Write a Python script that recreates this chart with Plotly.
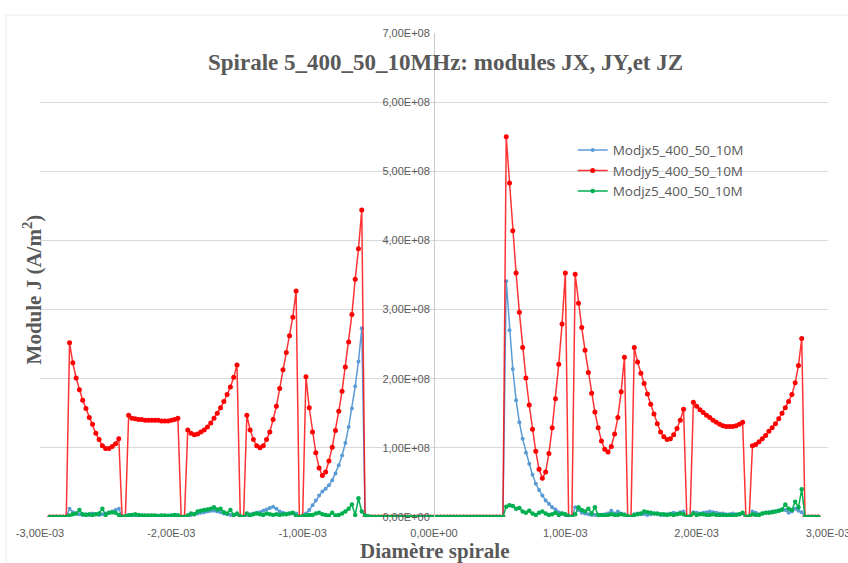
import plotly.graph_objects as go

# ---------------- data ----------------
# sample positions along the spiral diameter (m)
X_START = -2.925e-3
X_STEP = 2.5e-5

# values in units of 1e8 A/m^2
jx_e8 = [
    0, 0, 0, 0, 0, 0,
    0.12, 0.07, 0.05, 0.04, 0.03, 0.04, 0.03, 0.05, 0.04, 0.03, 0.04, 0.05, 0.06, 0.08, 0.10, 0.12,
    0, 0,
    0.03, 0.03, 0.02, 0.02, 0.02, 0.02, 0.02, 0.02, 0.02, 0.02, 0.02, 0.02, 0.02, 0.02, 0.02, 0.03,
    0, 0,
    0.02, 0.03, 0.04, 0.05, 0.06, 0.07, 0.08, 0.09, 0.09, 0.08, 0.07, 0.05, 0.04, 0.03, 0.03, 0.04,
    0, 0,
    0.03, 0.04, 0.05, 0.06, 0.07, 0.09, 0.11, 0.13, 0.15, 0.12, 0.08, 0.06, 0.05, 0.05, 0.05, 0.05,
    0, 0.02,
    0.05, 0.10, 0.17, 0.24, 0.31, 0.37, 0.41, 0.46, 0.53, 0.63, 0.75, 0.89, 1.07, 1.30, 1.57, 1.89, 2.25, 2.73,
    0, 0, 0, 0, 0, 0, 0, 0, 0, 0, 0, 0, 0, 0, 0, 0, 0, 0, 0, 0, 0, 0,
    0, 0, 0, 0, 0, 0, 0, 0, 0, 0, 0, 0, 0, 0, 0, 0, 0, 0, 0, 0, 0,
    3.41, 2.70, 2.14, 1.69, 1.37, 1.13, 0.93, 0.77, 0.61, 0.48, 0.39, 0.31, 0.24, 0.19, 0.14, 0.11, 0.07, 0.05, 0.03,
    0.02, 0,
    0.14, 0.10, 0.06, 0.05, 0.04, 0.03, 0.03, 0.03, 0.03, 0.04, 0.05, 0.09, 0.05, 0.08, 0.05, 0.04,
    0, 0,
    0.04, 0.05, 0.04, 0.04, 0.03, 0.04, 0.05, 0.04, 0.03, 0.03, 0.04, 0.05, 0.06, 0.05, 0.07, 0.08,
    0, 0,
    0.07, 0.06, 0.05, 0.06, 0.07, 0.08, 0.07, 0.06, 0.05, 0.05, 0.04, 0.04, 0.05, 0.04, 0.04, 0.05,
    0, 0,
    0.08, 0.06, 0.04, 0.05, 0.06, 0.07, 0.08, 0.08, 0.09, 0.10, 0.10, 0.06, 0.08, 0.12, 0.09, 0.07,
    0, 0, 0, 0, 0,
]

jy_e8 = [
    0, 0, 0, 0, 0, 0,
    2.52, 2.23, 2.01, 1.84, 1.69, 1.57, 1.44, 1.34, 1.21, 1.12, 1.03, 0.99, 0.99, 1.02, 1.06, 1.13,
    0, 0,
    1.47, 1.43, 1.42, 1.41, 1.41, 1.40, 1.40, 1.40, 1.40, 1.40, 1.39, 1.39, 1.39, 1.40, 1.41, 1.43,
    0, 0,
    1.26, 1.21, 1.19, 1.20, 1.23, 1.26, 1.30, 1.36, 1.43, 1.50, 1.58, 1.67, 1.77, 1.88, 2.02, 2.20,
    0, 0,
    1.47, 1.26, 1.12, 1.03, 1.00, 1.03, 1.12, 1.23, 1.41, 1.60, 1.86, 2.13, 2.38, 2.62, 2.89, 3.27,
    0, 0,
    2.03, 1.58, 1.23, 0.93, 0.71, 0.60, 0.65, 0.81, 1.01, 1.25, 1.53, 1.82, 2.17, 2.53, 2.93, 3.44, 3.88, 4.44,
    0, 0, 0, 0, 0, 0, 0, 0, 0, 0, 0, 0, 0, 0, 0, 0, 0, 0, 0, 0, 0, 0,
    0, 0, 0, 0, 0, 0, 0, 0, 0, 0, 0, 0, 0, 0, 0, 0, 0, 0, 0, 0, 0,
    5.50, 4.83, 4.14, 3.53, 2.96, 2.45, 2.01, 1.62, 1.27, 0.95, 0.69, 0.56, 0.65, 0.92, 1.29, 1.71, 2.21, 2.79, 3.53,
    0, 0,
    3.51, 3.09, 2.74, 2.41, 2.09, 1.79, 1.52, 1.29, 1.10, 0.98, 0.94, 1.02, 1.20, 1.44, 1.81, 2.31,
    0, 0,
    2.45, 2.24, 2.08, 1.93, 1.78, 1.63, 1.49, 1.35, 1.23, 1.16, 1.12, 1.13, 1.19, 1.28, 1.40, 1.56,
    0, 0,
    1.66, 1.60, 1.55, 1.51, 1.47, 1.44, 1.40, 1.37, 1.34, 1.32, 1.31, 1.31, 1.31, 1.32, 1.34, 1.37,
    0, 0,
    1.03, 1.05, 1.09, 1.13, 1.18, 1.24, 1.29, 1.35, 1.42, 1.50, 1.58, 1.67, 1.77, 1.94, 2.19, 2.58,
    0, 0, 0, 0, 0,
]

jz_e8 = [
    0, 0, 0, 0, 0, 0,
    0.02, 0.04, 0.05, 0.10, 0.04, 0.03, 0.04, 0.03, 0.04, 0.05, 0.12, 0.03, 0.06, 0.07, 0.06, 0.03,
    0, 0.01,
    0.02, 0.03, 0.04, 0.03, 0.02, 0.02, 0.02, 0.02, 0.02, 0.01, 0.02, 0.02, 0.01, 0.02, 0.03, 0.02,
    0, 0,
    0.02, 0.05, 0.04, 0.08, 0.09, 0.10, 0.11, 0.12, 0.14, 0.11, 0.12, 0.07, 0.05, 0.10, 0.03, 0.05,
    0.01, 0,
    0.05, 0.02, 0.04, 0.05, 0.04, 0.03, 0.05, 0.04, 0.03, 0.04, 0.03, 0.04, 0.04, 0.05, 0.06, 0.02,
    0, 0.01,
    0.02, 0.03, 0.03, 0.05, 0.06, 0.04, 0.03, 0.02, 0.06, 0.02, 0.03, 0.05, 0.08, 0.12, 0.18, 0.03, 0.27, 0.08,
    0.02, 0.01, 0, 0, 0, 0, 0, 0, 0, 0, 0, 0, 0, 0, 0, 0, 0, 0, 0, 0, 0, 0,
    0, 0, 0, 0, 0, 0, 0, 0, 0, 0, 0, 0, 0, 0, 0, 0, 0, 0, 0, 0, 0,
    0.15, 0.17, 0.16, 0.12, 0.13, 0.08, 0.06, 0.09, 0.05, 0.03, 0.06, 0.08, 0.05, 0.03, 0.04, 0.06, 0.03, 0.05, 0.04,
    0.01, 0,
    0.04, 0.14, 0.10, 0.08, 0.12, 0.05, 0.14, 0.03, 0.03, 0.02, 0.03, 0.04, 0.03, 0.03, 0.04, 0.03,
    0.01, 0,
    0.03, 0.04, 0.05, 0.08, 0.07, 0.06, 0.05, 0.05, 0.04, 0.04, 0.03, 0.04, 0.03, 0.04, 0.05, 0.04,
    0, 0.01,
    0.05, 0.03, 0.04, 0.04, 0.03, 0.03, 0.04, 0.03, 0.03, 0.03, 0.02, 0.03, 0.02, 0.03, 0.04, 0.06,
    0, 0.01,
    0.04, 0.03, 0.03, 0.05, 0.06, 0.06, 0.07, 0.08, 0.09, 0.11, 0.18, 0.12, 0.10, 0.22, 0.14, 0.40,
    0, 0, 0, 0, 0,
]

SERIES_NAMES = ["Modjx5_400_50_10M", "Modjy5_400_50_10M", "Modjz5_400_50_10M"]

X_TICK_VALS = [-3e-3, -2e-3, -1e-3, 0.0, 1e-3, 2e-3, 3e-3]
X_TICK_TEXT = ["-3,00E-03", "-2,00E-03", "-1,00E-03", "0,00E+00", "1,00E-03", "2,00E-03", "3,00E-03"]
Y_TICK_VALS = [0, 1e8, 2e8, 3e8, 4e8, 5e8, 6e8, 7e8]
Y_TICK_TEXT = ["0,00E+00", "1,00E+08", "2,00E+08", "3,00E+08", "4,00E+08", "5,00E+08", "6,00E+08", "7,00E+08"]

TITLE = "Spirale 5_400_50_10MHz: modules JX, JY,et JZ"
X_TITLE = "Diamètre spirale"
Y_TITLE = "Module J (A/m<sup>2</sup>)"

# ---------------- figure ----------------
n = len(jy_e8)
x = [X_START + i * X_STEP for i in range(n)]
scale = 1e8

fig = go.Figure()
styles = [
    (jx_e8, "#5B9BD5", "#5B9BD5", 4),
    (jy_e8, "rgba(255,0,0,0.8)", "#FF0000", 5),
    (jz_e8, "#00B050", "#00B050", 4.5),
]
for (vals, lc, mc, ms), name in zip(styles, SERIES_NAMES):
    fig.add_trace(go.Scatter(
        x=x, y=[v * scale for v in vals], name=name, mode="lines+markers",
        line=dict(color=lc, width=1.5),
        marker=dict(color=mc, size=ms),
    ))

GREY = "#595959"
TICKFONT = dict(family="Liberation Sans Narrow, Arial Narrow, Liberation Sans, sans-serif", size=11, color=GREY)
SERIF = "Liberation Serif, Times New Roman, serif"

fig.update_layout(
    width=848, height=563,
    margin=dict(l=40, r=20, t=33, b=46, autoexpand=False),
    paper_bgcolor="white", plot_bgcolor="white",
    showlegend=True,
    legend=dict(
        x=0.676, y=0.79, xanchor="left", yanchor="top",
        font=dict(family="Open Sans, Liberation Sans, sans-serif", size=13.5, color=GREY),
        bgcolor="rgba(0,0,0,0)", tracegroupgap=0, itemwidth=30,
    ),
    xaxis=dict(
        range=[-3e-3, 3e-3], tickvals=X_TICK_VALS, ticktext=X_TICK_TEXT,
        showgrid=False, zeroline=False, showline=False, ticks="",
        tickfont=TICKFONT, ticklabelstandoff=8, ticklabeloverflow="allow",
        automargin=False,
    ),
    yaxis=dict(
        range=[0, 7e8], tickvals=Y_TICK_VALS, ticktext=Y_TICK_TEXT,
        showgrid=True, gridcolor="#D9D9D9", gridwidth=1,
        zeroline=False, showline=True, linecolor="#C8C8C8", linewidth=1,
        anchor="free", position=0.5, side="left", ticks="",
        tickfont=TICKFONT, ticklabelstandoff=2, automargin=False,
    ),
    annotations=[
        dict(text=TITLE, xref="paper", yref="paper", x=0.514, y=0.94,
             xanchor="center", yanchor="middle", showarrow=False,
             font=dict(family=SERIF, size=23, color=GREY, weight="bold")),
        dict(text=X_TITLE, xref="paper", yref="paper", x=0.5, y=-0.07,
             xanchor="center", yanchor="middle", showarrow=False,
             font=dict(family=SERIF, size=21, color=GREY, weight="bold")),
        dict(text=Y_TITLE, xref="paper", yref="paper", x=-0.009, y=0.47,
             xanchor="center", yanchor="middle", showarrow=False, textangle=-90,
             font=dict(family=SERIF, size=21, color=GREY, weight="bold")),
    ],
    shapes=[
        dict(type="rect", xref="paper", yref="paper",
             x0=-0.043, x1=1.1, y0=-0.2, y1=1.037,
             line=dict(color="#EBEBEB", width=1), fillcolor="rgba(0,0,0,0)", layer="below"),
    ],
)

fig.write_html("out.html")
